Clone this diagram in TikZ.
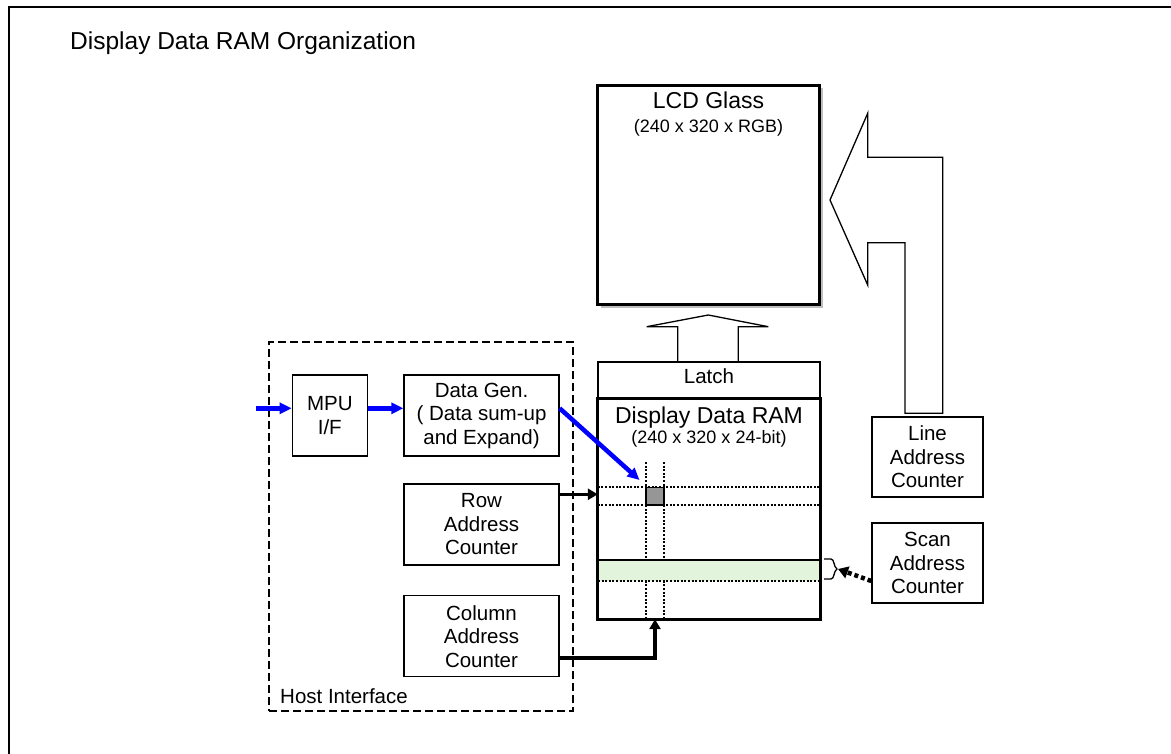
\documentclass[tikz,border=0pt]{standalone}
\usepackage{fontspec}
\setmainfont{Liberation Sans}
\usetikzlibrary{arrows.meta}
\newcommand\fttl{\fontsize{24.5}{28}\selectfont}
\newcommand\fbig{\fontsize{23}{26}\selectfont}
\newcommand\fsml{\fontsize{18}{21}\selectfont}
\newcommand\flbl{\fontsize{20.5}{23.5}\selectfont}
\definecolor{blueline}{RGB}{0,0,255}
\definecolor{cellgray}{RGB}{150,150,150}
\definecolor{bandgreen}{RGB}{226,245,220}
\definecolor{shadowgray}{RGB}{190,190,190}
\begin{document}
\begin{tikzpicture}[x=1pt,y=-1pt,
  box/.style={draw, line width=1.3pt, minimum width=155pt, minimum height=81pt,
    align=center, font=\flbl, inner sep=0pt},
  thinline/.style={line width=1.3pt, line join=miter},
  dotline/.style={line width=2.2pt, dash pattern=on 2pt off 1.6pt},
  bluearrow/.style={draw=blueline, line width=4.5pt, -{Triangle[length=12pt,width=11pt]}, blueline},
  blackarrow/.style={line width=3pt, -{Triangle[length=10pt,width=11pt]}},
  txt/.style={inner sep=0pt, anchor=base}
]
\useasboundingbox (0,0) rectangle (1171,754);
% frame
\draw[line width=2pt] (8.5,754) -- (8.5,7) -- (1171,7);
\node[txt, anchor=base west, font=\fttl] (title) at (70,50) {Display Data RAM Organization};

% host interface
\node[draw, line width=2pt, dash pattern=on 8pt off 4pt, minimum width=304pt, minimum height=369pt, inner sep=0pt] (host) at (421,526.5) {};
\node[txt, anchor=base west, font=\flbl] (hostt) at (280,703) {Host Interface};

\node[box, minimum width=75pt] (mpu) at (329.8,415.5) {MPU\\I/F};
\node[box] (dg) at (481.5,415.5) {Data Gen.\\( Data sum-up\\and Expand)};
\node[box] (row) at (481.5,524.5) {Row\\Address\\Counter};
\node[box] (col) at (481.5,636.2) {Column\\Address\\Counter};

% LCD glass
\fill[shadowgray] (600.5,88.5) rectangle (823,308);
\node[draw, fill=white, line width=3pt, minimum width=222pt, minimum height=219pt, inner sep=0pt] (lcd) at (708.5,195) {};
\node[txt, font=\fbig] (lcdt) at (708.5,109) {LCD Glass};
\node[txt, font=\fsml] (lcds) at (708.5,133) {(240 x 320 x RGB)};

% up block arrow
\draw[thinline] (677.7,362) -- (677.7,326.7) -- (646.7,326.7) -- (708.3,315) -- (768.3,326.7) -- (738.3,326.7) -- (738.3,362);

% latch
\node[draw, line width=1.3pt, minimum width=222pt, minimum height=37pt, inner sep=0pt] (latch) at (709,380.5) {};
\node[txt, font=\flbl] (latcht) at (709,383) {Latch};

% RAM
\node[minimum width=222pt, minimum height=220pt, inner sep=0pt] (ram) at (709,509) {};
\node[txt, font=\fbig] (ramt) at (709,423) {Display Data RAM};
\node[txt, font=\fsml] (rams) at (709,443) {(240 x 320 x 24-bit)};
\draw[dotline] (ram.west |- 0,487.3) -- (ram.east |- 0,487.3);
\draw[dotline] (ram.west |- 0,505) -- (ram.east |- 0,505);
\draw[dotline] (645.7,462) -- (645.7,619);
\draw[dotline] (664,462) -- (664,619);
\draw[line width=1.3pt, fill=cellgray] (646,487.3) rectangle (664,505);
\fill[bandgreen] (598,560) rectangle (820,580.7);
\draw[line width=1.3pt] (598,560) -- (820,560);
\draw[dotline] (598,580.7) -- (820,580.7);
\draw[line width=3pt, line join=miter] (ram.south west) rectangle (ram.north east);

% bracket
\draw[thinline] (824,559) -- (831,559) .. controls (834.5,559) and (833.5,567) .. (837,569) .. controls (833.5,571) and (834.5,579) .. (831,579) -- (824,579);
\coordinate (brk) at (838,569);

% line / scan counters
\node[box, minimum width=111pt, minimum height=80pt] (line) at (927.5,457) {Line\\Address\\Counter};
\node[box, minimum width=111pt, minimum height=80pt] (scan) at (927.5,563) {Scan\\Address\\Counter};

% big left arrow
\draw[thinline] (830,200) -- (867.7,113.3) -- (867.7,157.3) -- (942.7,157.3) -- (942.7,413.3) -- (905,413.3) -- (905,242.7) -- (867.7,242.7) -- (867.7,285) -- cycle;

% connectors
\coordinate (in) at (256,408.3);
\coordinate (cell) at (639.5,480);
\coordinate (rowy) at (0,494.3);
\coordinate (coly) at (0,658.3);
\coordinate (colx) at (655,0);
\coordinate (scany) at (0,581);
\draw[bluearrow] (in) -- (mpu.west |- in);
\draw[bluearrow] (mpu.east |- in) -- (dg.west |- in);
\draw[bluearrow] (dg.east |- in) -- (cell);
\draw[blackarrow] (row.east |- rowy) -- (ram.west |- rowy);
\draw[line width=4pt, -{Triangle[length=10pt,width=11pt]}] (col.east |- coly) -| (ram.south -| colx);
\draw[line width=4.5pt, dash pattern=on 4pt off 3pt, -{Triangle[length=10pt,width=12pt]}] (scan.west |- scany) -- (brk);
\end{tikzpicture}
\end{document}
